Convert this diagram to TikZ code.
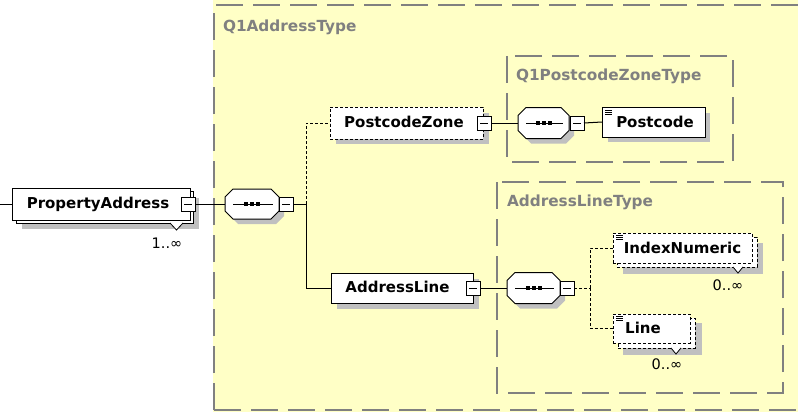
\documentclass[tikz,border=0pt]{standalone}
\usepackage{fontspec}
\setmainfont{DejaVu Sans}
\definecolor{typefill}{RGB}{255,255,198}
\definecolor{typeline}{RGB}{128,128,128}
\definecolor{shadowc}{RGB}{192,192,192}
\newcommand\seqoct[1]{%
  \fill[shadowc, transform canvas={shift={(5pt,-5pt)}}]
    ([xshift=8pt]#1.north west) -- ([xshift=-8pt]#1.north east) -- ([yshift=-8pt]#1.north east)
    -- ([yshift=8pt]#1.south east) -- ([xshift=-8pt]#1.south east) -- ([xshift=8pt]#1.south west)
    -- ([yshift=8pt]#1.south west) -- ([yshift=-8pt]#1.north west) -- cycle;
  \draw[draw=black, fill=white, line width=1pt]
    ([xshift=8pt]#1.north west) -- ([xshift=-8pt]#1.north east) -- ([yshift=-8pt]#1.north east)
    -- ([yshift=8pt]#1.south east) -- ([xshift=-8pt]#1.south east) -- ([xshift=8pt]#1.south west)
    -- ([yshift=8pt]#1.south west) -- ([yshift=-8pt]#1.north west) -- cycle;
  \draw[line width=1pt] ([xshift=8pt]#1.west) -- ([xshift=-6pt]#1.east);
  \fill ([xshift=-8pt,yshift=-1.8pt]#1.center) rectangle ([xshift=-4pt,yshift=1.8pt]#1.center);
  \fill ([xshift=-2pt,yshift=-1.8pt]#1.center) rectangle ([xshift=2pt,yshift=1.8pt]#1.center);
  \fill ([xshift=4pt,yshift=-1.8pt]#1.center) rectangle ([xshift=8pt,yshift=1.8pt]#1.center);
}
\begin{document}
\begin{tikzpicture}[x=1pt,y=-1pt,
  every node/.style={inner sep=0pt, outer sep=0pt},
  elbox/.style={draw=black, fill=white, line width=1pt, rectangle},
  optbox/.style={elbox, dash pattern=on 3pt off 2pt},
  ename/.style={font=\bfseries\fontsize{15}{18}\selectfont, text=black},
  tname/.style={font=\bfseries\fontsize{15.3}{18}\selectfont, text=typeline, anchor=west},
  mult/.style={font=\fontsize{14.5}{16}\selectfont, text=black},
  typebox/.style={draw=typeline, line width=1.3pt, dash pattern=on 27pt off 10pt},
  conn/.style={draw=black, line width=1pt},
  optconn/.style={conn, dash pattern=on 3pt off 2pt},
  notch/.style={draw=black, fill=white, line width=0.8pt},
  icon/.style={draw=black, line width=0.7pt},
  seqbox/.style={rectangle, draw=none},
  btn/.style={draw=black, fill=white, line width=1pt, minimum size=14pt,
    preaction={fill=black, transform canvas={shift={(1.3pt,-1.3pt)}}},
    path picture={\draw[line width=1pt] ([xshift=-4pt]path picture bounding box.center) -- ([xshift=4pt]path picture bounding box.center);}},
]
\useasboundingbox (0,0) rectangle (798,412);
\fill[white] (0,0) rectangle (798,412);
% type regions
\fill[typefill] (213,0) rectangle (798,412);
\draw[typebox] (214,410) -- (214,5) -- (830,5);
\draw[typebox] (214,410) -- (830,410);
\draw[typebox] (507,56) rectangle (733,162);
\draw[typebox] (497,182) rectangle (783,393);
\node[tname] (tQ1) at (223,27) {Q1AddressType};
\node[tname] (tPZ) at (516,76) {Q1PostcodeZoneType};
\node[tname] (tAL) at (507,202) {AddressLineType};

% PropertyAddress
\fill[shadowc] (22,198) rectangle (199,229);
\node[elbox, minimum width=177, minimum height=32, anchor=north west] (paback) at (16,191) {};
\node[elbox, minimum width=178, minimum height=32, anchor=north west] (pa) at (12,188) {};
\node[ename] (paT) at (98,204) {PropertyAddress};
\node[btn] (pab) at (188,204) {};
\draw[notch] (170,223) -- (176.5,230) -- (183,223);
\node[mult] (paM) at (167,243) {1..∞};

% sequence 1
\node[seqbox, minimum width=54, minimum height=30] (s1) at (252,204) {};
\seqoct{s1}
\node[btn] (s1b) at (286,204) {};

% PostcodeZone
\fill[shadowc] (336,113) rectangle (489,144);
\node[optbox, minimum width=153, minimum height=32] (pz) at (406.5,123) {};
\node[ename] (pzT) at (404,122) {PostcodeZone};
\node[btn] (pzb) at (484,123) {};

% sequence 2
\node[seqbox, minimum width=51, minimum height=31] (s2) at (543.5,123) {};
\seqoct{s2}
\node[btn] (s2b) at (577,123) {};

% Postcode
\fill[shadowc] (608,113) rectangle (710,142);
\node[elbox, minimum width=103, minimum height=30] (pc) at (653.5,122) {};
\node[ename] (pcT) at (655,122) {Postcode};
\draw[icon] (605,110.5) -- (612,110.5) (605,112.5) -- (612,112.5) (605,114.5) -- (612,114.5);

% AddressLine
\fill[shadowc] (337,279) rectangle (479,309);
\node[elbox, minimum width=142, minimum height=30] (al) at (402,288) {};
\node[ename] (alT) at (397.5,287) {AddressLine};
\node[btn] (alb) at (473,288) {};

% sequence 3
\node[seqbox, minimum width=53, minimum height=31] (s3) at (533.5,288) {};
\seqoct{s3}
\node[btn] (s3b) at (567,288) {};

% IndexNumeric
\fill[shadowc] (623,243) rectangle (763,274);
\node[optbox, minimum width=140, minimum height=30, anchor=north west] (inumback) at (617,237) {};
\node[optbox, minimum width=139, minimum height=30] (inum) at (682.5,248) {};
\node[ename] (inumT) at (682.5,248) {IndexNumeric};
\draw[icon] (616,235.5) -- (623,235.5) (616,237.5) -- (623,237.5) (616,239.5) -- (623,239.5);
\draw[notch] (733,267) -- (738,273) -- (743,267);
\node[mult] (inumM) at (728,285) {0..∞};

% Line
\fill[shadowc] (623,323) rectangle (702,355);
\node[optbox, minimum width=77, minimum height=30, anchor=north west] (lnback) at (618,318) {};
\node[optbox, minimum width=77, minimum height=29] (ln) at (651.5,328.5) {};
\node[ename] (lnT) at (643,328) {Line};
\draw[icon] (616,316.5) -- (623,316.5) (616,318.5) -- (623,318.5) (616,320.5) -- (623,320.5);
\draw[notch] (671,348) -- (676,354) -- (681,348);
\node[mult] (lnM) at (667,364) {0..∞};

% connectors
\coordinate (lin) at (0,204);
\coordinate (j1) at (306,204);
\coordinate (j2) at (590,288);
\draw[conn] (lin) -- (pa.west);
\draw[conn] (pab.east) -- (s1.west);
\draw[conn] (s1b.east) -- (j1);
\draw[optconn] (j1) |- (pz.west);
\draw[conn] (j1) |- (al.west);
\draw[conn] (pzb.east) -- (s2.west);
\draw[conn] (s2b.east) -- (pc.west);
\draw[conn] (alb.east) -- (s3.west);
\draw[optconn] (s3b.east) -- (j2);
\draw[optconn] (j2) |- (inum.west);
\draw[optconn] (j2) |- (ln.west);
\end{tikzpicture}
\end{document}
